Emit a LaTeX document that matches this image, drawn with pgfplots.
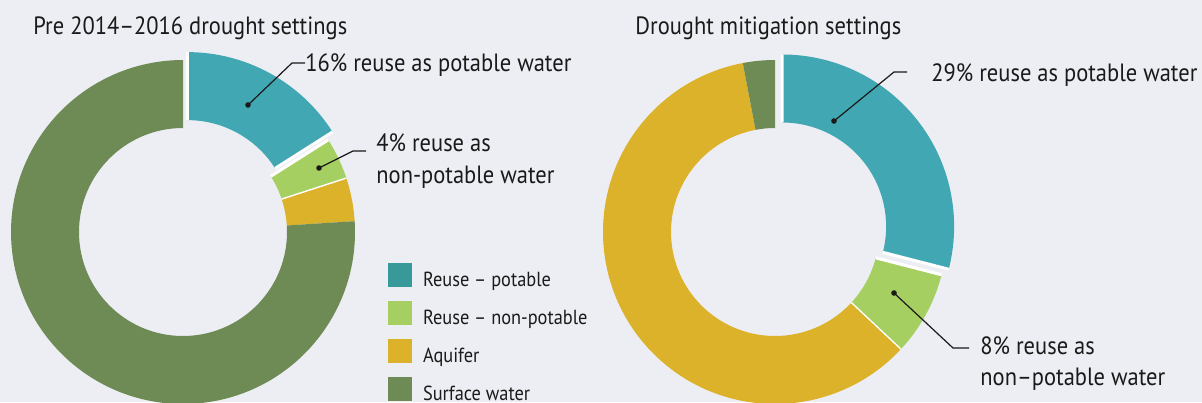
\documentclass[border=0pt]{standalone}
\usepackage{pgfplots}
\pgfplotsset{compat=1.18}
\usepackage{fontspec}
\setmainfont{PT Sans}[FakeStretch=0.9]

\definecolor{bgc}{HTML}{EDEEF3}
\definecolor{cteal}{HTML}{41A8B3}
\definecolor{cteall}{HTML}{389A98}
\definecolor{clime}{HTML}{A6CF62}
\definecolor{cgold}{HTML}{DBB22A}
\definecolor{colive}{HTML}{6F8B55}
\definecolor{ink}{HTML}{1A1A1A}

% donut radii in axis units (1 unit = 0.5pt)
\newcommand\Ro{172}
\newcommand\Ri{104}
\gdef\cum{0}
% \slice{cx}{cy}{percent}{colour}{explode}{separator width in pt}
\newcommand\slice[6]{%
  \pgfmathsetmacro\aS{90-3.6*\cum}%
  \pgfmathsetmacro\aE{90-3.6*(\cum+#3)}%
  \pgfmathsetmacro\aM{(\aS+\aE)/2}%
  \pgfmathsetmacro\ox{#1+#5*cos(\aM)}%
  \pgfmathsetmacro\oy{#2+#5*sin(\aM)}%
  \pgfmathsetmacro\xA{\ox+\Ro*cos(\aS)}\pgfmathsetmacro\yA{\oy+\Ro*sin(\aS)}%
  \pgfmathsetmacro\xB{\ox+\Ri*cos(\aE)}\pgfmathsetmacro\yB{\oy+\Ri*sin(\aE)}%
  \pgfmathsetmacro\xC{\ox+\Ri*cos(\aS)}\pgfmathsetmacro\yC{\oy+\Ri*sin(\aS)}%
  \pgfmathsetmacro\xD{\ox+\Ro*cos(\aE)}\pgfmathsetmacro\yD{\oy+\Ro*sin(\aE)}%
  \edef\next{\noexpand\fill[#4] (axis cs:\xA,\yA) arc[start angle=\aS,end angle=\aE,radius=\Ro*0.5pt]
     -- (axis cs:\xB,\yB) arc[start angle=\aE,end angle=\aS,radius=\Ri*0.5pt] -- cycle;}%
  \next
  \ifdim#6pt>0pt
    \edef\next{\noexpand\draw[white,line width=#6pt] (axis cs:\xC,\yC) -- (axis cs:\xA,\yA)
       (axis cs:\xB,\yB) -- (axis cs:\xD,\yD);}%
    \next
  \fi
  \pgfmathsetmacro\cum{\cum+#3}\global\let\cum\cum
}

\begin{document}
\begin{tikzpicture}
\begin{axis}[
  at={(0,0)}, anchor=south west,
  x=0.5pt, y=0.5pt,
  xmin=0, xmax=1202, ymin=0, ymax=402,
  hide axis, clip=false,
  legend image code/.code={\fill[#1,draw=none] (0pt,-3pt) rectangle (12pt,9pt);},
  legend cell align=left,
  legend style={draw=none, fill=none, at={(axis cs:388,139)}, anchor=north west,
    inner sep=0pt, outer sep=0pt, row sep=5.6pt, column sep=5.5pt,
    nodes={inner sep=0pt, text=ink, font=\fontsize{10.2}{11}\selectfont}},
]
\fill[bgc] (axis cs:0,0) rectangle (axis cs:1202,402);

% Pre 2014-2016 drought settings
\gdef\cum{0}
\slice{183}{170}{16}{cteal}{9}{1.5}
\slice{183}{170}{4}{clime}{0}{1.5}
\slice{183}{170}{4}{cgold}{0}{0}
\slice{183}{170}{76}{colive}{0}{0}

% Drought mitigation settings
\gdef\cum{0}
\slice{775}{170}{29}{cteal}{9}{1.5}
\slice{775}{170}{8}{clime}{0}{1.5}
\slice{775}{170}{60}{cgold}{0}{0}
\slice{775}{170}{3}{colive}{0}{0}

\addlegendimage{cteall}\addlegendentry{Reuse – potable}
\addlegendimage{clime}\addlegendentry{Reuse – non-potable}
\addlegendimage{cgold}\addlegendentry{Aquifer}
\addlegendimage{colive}\addlegendentry{Surface water}

\begin{scope}[font=\fontsize{12.5}{14}\selectfont, text=ink]
\node[anchor=base west, inner sep=0pt] at (axis cs:33,367) {Pre 2014–2016 drought settings};
\node[anchor=base west, inner sep=0pt] at (axis cs:635,367) {Drought mitigation settings};

\draw[ink, line width=0.6pt] (axis cs:248,297) -- (axis cs:292,339) -- (axis cs:305,339);
\fill[ink] (axis cs:248,297) circle[radius=1.4pt];
\node[anchor=base west, inner sep=0pt] at (axis cs:305,330) {16\% reuse as potable water};

\draw[ink, line width=0.6pt] (axis cs:319,234) -- (axis cs:353,251) -- (axis cs:366,251);
\fill[ink] (axis cs:319,234) circle[radius=1.4pt];
\node[anchor=base west, inner sep=0pt] at (axis cs:376,250) {4\% reuse as};
\node[anchor=base west, inner sep=0pt] at (axis cs:376,219) {non-potable water};

\draw[ink, line width=0.6pt] (axis cs:834,281) -- (axis cs:894,330) -- (axis cs:907,330);
\fill[ink] (axis cs:834,281) circle[radius=1.4pt];
\node[anchor=base west, inner sep=0pt] at (axis cs:931,320) {29\% reuse as potable water};

\draw[ink, line width=0.6pt] (axis cs:894,109) -- (axis cs:953,54) -- (axis cs:969,54);
\fill[ink] (axis cs:894,109) circle[radius=1.4pt];
\node[anchor=base west, inner sep=0pt] at (axis cs:980,48) {8\% reuse as};
\node[anchor=base west, inner sep=0pt] at (axis cs:980,17) {non–potable water};
\end{scope}
\end{axis}
\pgfresetboundingbox
\path (0,0) rectangle (601pt,201pt);
\end{tikzpicture}
\end{document}
